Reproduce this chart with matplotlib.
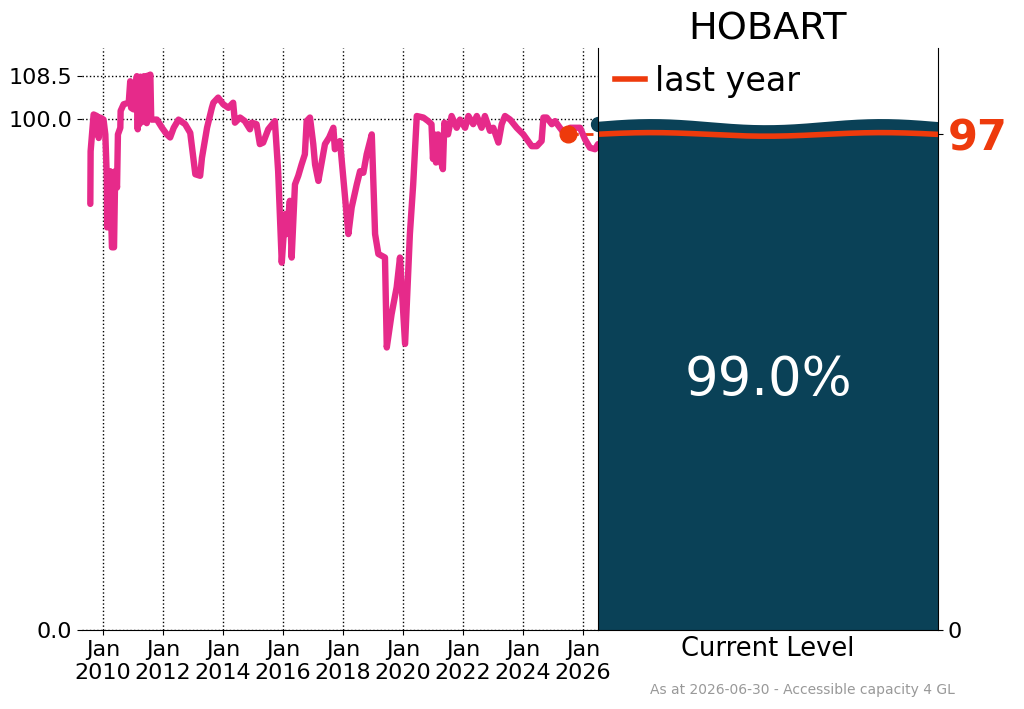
import numpy as np
import matplotlib
matplotlib.use("Agg")
import matplotlib.pyplot as plt

# ---- data ----
years = [2009.58, 2009.59, 2009.69, 2009.80, 2009.86, 2009.91, 2010.02, 2010.08, 2010.13, 2010.14,
         2010.24, 2010.30, 2010.37, 2010.41, 2010.47, 2010.50, 2010.58, 2010.59, 2010.69, 2010.86,
         2010.91, 2010.94, 2011.02, 2011.13, 2011.16, 2011.19, 2011.22, 2011.25, 2011.28, 2011.31,
         2011.34, 2011.37, 2011.40, 2011.43, 2011.46, 2011.49, 2011.52, 2011.55, 2011.58, 2011.61,
         2011.64, 2011.80, 2011.97, 2012.13, 2012.24, 2012.36,
         2012.52, 2012.74, 2012.91, 2012.97, 2013.08, 2013.24, 2013.30, 2013.47, 2013.63, 2013.68,
         2013.84, 2014.01, 2014.18, 2014.34, 2014.40, 2014.57, 2014.73, 2014.90, 2014.96, 2015.12,
         2015.23, 2015.34, 2015.51, 2015.73, 2015.84, 2015.96, 2016.07, 2016.12, 2016.23, 2016.29,
         2016.40, 2016.51, 2016.62, 2016.73, 2016.79, 2016.90, 2017.01, 2017.07, 2017.18, 2017.40,
         2017.54, 2017.68, 2017.73, 2017.90, 2017.96, 2018.07, 2018.18, 2018.29, 2018.46, 2018.57,
         2018.68, 2018.79, 2018.96, 2019.07, 2019.18, 2019.40, 2019.46, 2019.62, 2019.79, 2019.90,
         2020.07, 2020.23, 2020.34, 2020.46, 2020.68, 2020.84, 2020.95, 2021.00, 2021.05, 2021.10,
         2021.17, 2021.22, 2021.33, 2021.38, 2021.50, 2021.62, 2021.79, 2021.90, 2022.07, 2022.18,
         2022.34, 2022.46, 2022.62, 2022.73, 2022.90, 2023.01, 2023.18, 2023.29, 2023.40, 2023.57,
         2023.79, 2024.01, 2024.29, 2024.46, 2024.62, 2024.68, 2024.79, 2024.96, 2025.07, 2025.23,
         2025.40, 2025.57, 2025.73, 2025.90, 2026.07, 2026.23, 2026.40, 2026.50]
levels = [83.4, 93.7, 100.9, 100.6, 96.3, 100.3, 99.9, 97.0, 88.5, 78.8,
          89.8, 74.9, 74.9, 89.8, 86.6, 97.0, 98.3, 101.6, 102.9, 103.2,
          107.4, 102.2, 101.9, 108.4, 98.0, 108.2, 99.0, 108.3, 100.0, 108.0,
          99.5, 108.4, 100.5, 107.8, 99.2, 108.5, 100.2, 108.0, 108.7, 99.9,
          99.9, 99.9, 98.3, 97.0, 96.4, 98.3,
          99.9, 99.0, 97.3, 94.4, 89.2, 88.9, 92.4, 98.3, 102.2, 103.2,
          104.2, 102.9, 102.2, 103.2, 99.3, 100.3, 99.6, 98.0, 99.3, 99.0,
          95.1, 95.4, 98.0, 99.6, 89.8, 71.9, 81.4, 77.5, 84.0, 72.9,
          87.2, 88.9, 91.1, 93.1, 99.6, 100.3, 95.1, 91.1, 87.9, 95.1,
          96.4, 98.3, 94.1, 95.7, 91.8, 84.6, 77.5, 82.7, 87.2, 89.8,
          89.5, 93.1, 97.0, 77.5, 73.6, 72.9, 55.3, 61.8, 67.1, 72.9,
          56.0, 77.5, 87.2, 100.6, 100.3, 99.6, 99.0, 92.2, 97.0, 91.5,
          97.0, 92.8, 90.2, 99.3, 97.0, 100.6, 98.3, 99.9, 98.3, 100.6,
          99.0, 100.6, 98.3, 100.6, 97.7, 98.3, 95.4, 99.0, 100.6, 99.9,
          98.3, 97.0, 94.7, 94.7, 95.7, 100.3, 100.3, 99.0, 99.6, 98.3,
          97.0, 98.3, 98.3, 98.3, 96.0, 94.4, 94.1, 95.1]

current_level = 99.0
last_year_level = 97
last_year_date = 2025.5
as_at_date = 2026.5
tick_years = [2010, 2012, 2014, 2016, 2018, 2020, 2022, 2024, 2026]
ytick_vals = [0.0, 100.0, 108.5]

PINK = '#e62a8a'
TEAL = '#0a4157'
ORANGE = '#ee3a0c'

fig = plt.figure(figsize=(10.24, 7.09), dpi=100)
ax = fig.add_axes([0.080, 0.1114, 0.504, 0.821])
axr = fig.add_axes([0.584, 0.1114, 0.332, 0.821])
ymax = 108.5 * 1.05

# --- history panel ---
ax.plot(years, levels, color=PINK, lw=4.6, solid_joinstyle='round',
        solid_capstyle='round', zorder=3)
ax.plot([last_year_date, as_at_date], [last_year_level, last_year_level],
        '--', color=ORANGE, lw=2, zorder=2)
ax.plot([last_year_date], [last_year_level], 'o', color=ORANGE, ms=12, zorder=4)
ax.plot([as_at_date], [current_level], 'o', color=TEAL, ms=10, zorder=4, clip_on=False)
ax.set_xlim(2009.3, as_at_date)
ax.set_ylim(0, ymax)
ax.set_xticks(tick_years)
ax.set_xticklabels([f'Jan\n{y}' for y in tick_years])
ax.set_yticks(ytick_vals)
ax.set_yticklabels([f'{v:.1f}' for v in ytick_vals])
ax.tick_params(labelsize=16)
ax.grid(True, linestyle=':', color='black', lw=1)
for s in ['top', 'right', 'left']:
    ax.spines[s].set_visible(False)

# --- current level panel (wavy water surface) ---
xs = np.linspace(0, 1, 200)
wave = -np.cos(2 * np.pi * (xs - 0.495) / 0.676)
axr.fill_between(xs, 0, current_level + 0.6 * wave, color=TEAL, lw=0)
axr.plot(xs, current_level + 0.6 * wave, color=TEAL, lw=3)
axr.plot(xs, last_year_level + 0.35 * wave, color=ORANGE, lw=4, label='last year')
axr.set_xlim(0, 1)
axr.set_ylim(0, ymax)
axr.text(0.5, 49, f'{current_level:.1f}%', color='white', fontsize=38,
         ha='center', va='center')
axr.set_xticks([0.5])
axr.set_xticklabels(['Current Level'], fontsize=18.5)
axr.tick_params(axis='x', length=0, pad=4)
axr.yaxis.tick_right()
axr.set_yticks([0, last_year_level])
axr.set_yticklabels(['0', f'{last_year_level}'])
axr.tick_params(axis='y', labelsize=16)
lbl = axr.get_yticklabels()[1]
lbl.set_color(ORANGE)
lbl.set_fontsize(31)
lbl.set_fontweight('bold')
axr.spines['top'].set_visible(False)
axr.set_title('HOBART', fontsize=27.5, pad=4)
axr.legend(loc='upper left', frameon=False, fontsize=24, handlelength=0.9,
           borderaxespad=0.1, handletextpad=0.3)

fig.text(0.784, 0.027, 'As at 2026-06-30 - Accessible capacity 4 GL',
         color='#999999', fontsize=10, ha='center', va='center')

fig.savefig('out.png', dpi=100)
